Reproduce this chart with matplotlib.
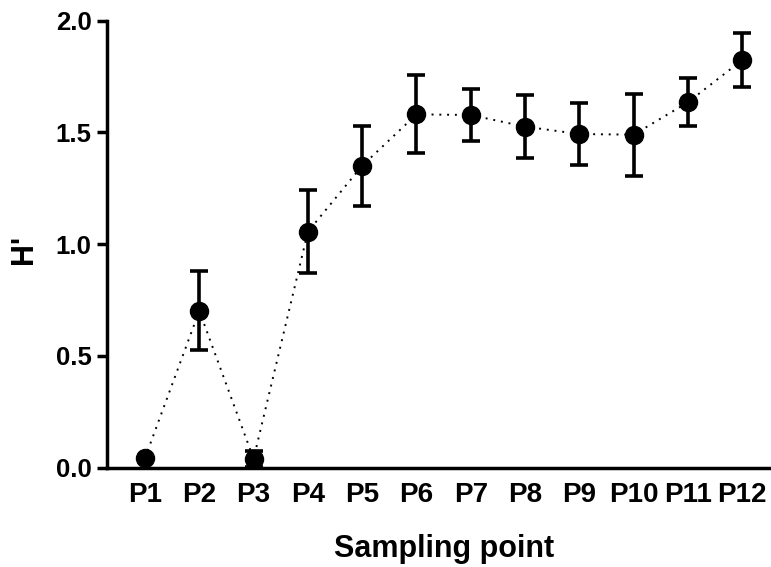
import matplotlib
matplotlib.use("Agg")
import matplotlib.pyplot as plt
from matplotlib.ticker import FormatStrFormatter

plt.rcParams['font.family'] = ['Liberation Sans', 'DejaVu Sans']
plt.rcParams['font.weight'] = 'bold'

categories = ["P1", "P2", "P3", "P4", "P5", "P6", "P7", "P8", "P9", "P10", "P11", "P12"]
h_values = [0.043, 0.702, 0.040, 1.056, 1.351, 1.581, 1.578, 1.526, 1.493, 1.490, 1.635, 1.824]
h_errors = [0.0, 0.177, 0.036, 0.185, 0.178, 0.175, 0.117, 0.142, 0.137, 0.183, 0.107, 0.122]
y_ticks = [0.0, 0.5, 1.0, 1.5, 2.0]

fig = plt.figure(figsize=(7.71, 5.67), dpi=100)
ax = fig.add_axes([107 / 771, 99.3 / 567, 1 - 107 / 771, (467.7 - 20.7) / 567])

x = list(range(len(categories)))
ax.plot(x, h_values, linestyle=(0, (1, 3)), color='black', linewidth=1.4, zorder=2, clip_on=False)
ax.errorbar(x, h_values, yerr=h_errors, fmt='o', color='black', markersize=13,
            elinewidth=2.6, capsize=6.5, capthick=2.6, zorder=3, clip_on=False)

ax.set_xlim(-0.70, 11.53)
ax.set_ylim(0, 2.0)
ax.set_yticks(y_ticks)
ax.yaxis.set_major_formatter(FormatStrFormatter('%.1f'))
ax.set_xticks(x)
ax.set_xticklabels(categories)

for s in ['top', 'right']:
    ax.spines[s].set_visible(False)
for s in ['left', 'bottom']:
    ax.spines[s].set_linewidth(2.5)

ax.tick_params(axis='y', length=7, width=2.5, labelsize=18.5, pad=4)
ax.tick_params(axis='x', length=0, labelsize=20, pad=10.5)

fig.text(444 / 771, 10 / 567, "Sampling point", fontsize=22, fontweight='bold',
         ha='center', va='baseline')
fig.text(24 / 771, (567 - 249) / 567, "H'", fontsize=22, fontweight='bold',
         ha='center', va='center', rotation=90)

fig.savefig("out.png", dpi=100)
